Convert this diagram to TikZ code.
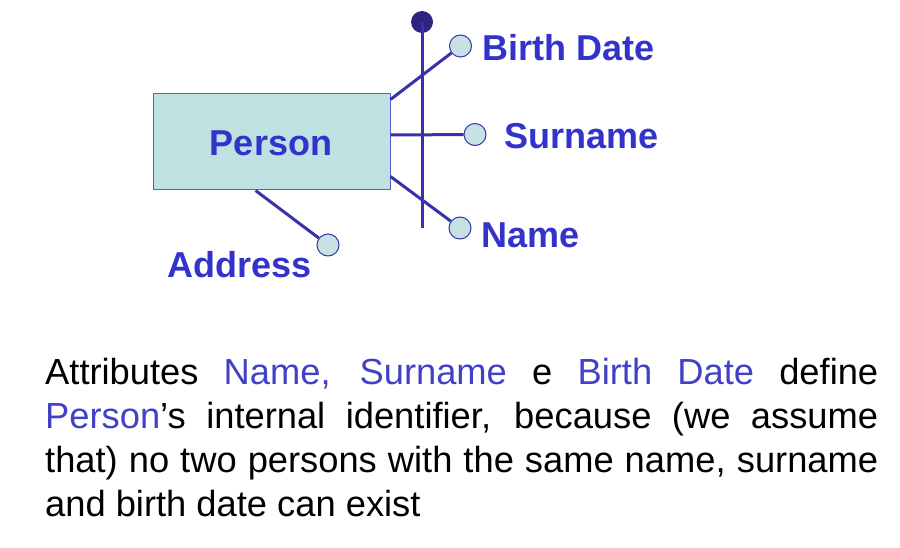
\documentclass[tikz,border=0pt]{standalone}
\usepackage{fontspec}
\setmainfont{Liberation Sans}
\usepackage{tikz}
\usetikzlibrary{positioning}
\usepackage{xcolor}
\definecolor{erblue}{RGB}{51,51,204}
\definecolor{ertextblue}{RGB}{64,64,200}
\definecolor{erline}{RGB}{55,50,170}
\definecolor{erdark}{RGB}{45,35,130}
\definecolor{erfill}{RGB}{190,226,226}
\definecolor{erdot}{RGB}{200,226,228}
\tikzstyle{entity} = [draw=erblue!80, line width=1pt, fill=erfill, minimum width=237pt, minimum height=96pt, inner sep=0pt]
\tikzstyle{attr} = [circle, draw=erline, line width=1pt, fill=erdot, minimum size=22pt, inner sep=0pt]
\tikzstyle{attrlabel} = [anchor=west, inner sep=0pt, text=erblue, font=\fontsize{36}{40}\selectfont\bfseries]
\tikzstyle{link} = [line width=3pt, color=erline]

\begin{document}
\begin{tikzpicture}[x=1pt, y=-1pt]
\useasboundingbox (0,0) rectangle (900,548);
% Entity with its attributes
\node[entity] (person) at (271.5,142) {};
\node[text=erblue, font=\fontsize{36}{40}\selectfont\bfseries] (personlabel) at (271,143) {Person};
\node[attr] (birth) at (460.5,46) {};
\node[attr] (surname) at (475,134.5) {};
\node[attr] (name) at (460,228) {};
\node[attr] (address) at (328,245) {};
\draw[link] ([yshift=-6pt]person.north east) -- (birth);
\draw[link] ([yshift=7pt]person.east) -- (surname);
\draw[link] ([yshift=14pt]person.south east) -- (name);
\draw[link] ([xshift=-16pt]person.south) -- (address);
% Internal identifier
\node[circle, fill=erdark, minimum size=22pt, inner sep=0pt] (idmark) at (422,22) {};
\coordinate (idend) at (422,228);
\draw[link] (idmark.center) -- (idend);
\node[attrlabel] (birthlabel) at (482,48) {Birth Date};
\node[attrlabel] (surnamelabel) at (504,136) {Surname};
\node[attrlabel] (namelabel) at (481,235) {Name};
\node[attrlabel, anchor=east] (addresslabel) at (312,265) {Address};
% Explanation
\node[anchor=north west, inner sep=0pt, text width=833pt, align=justify,
      font=\fontsize{36.3}{44}\selectfont] (note) at (45,358)
  {Attributes \textcolor{ertextblue}{Name, Surname} e \textcolor{ertextblue}{Birth Date} define\linebreak
   \textcolor{ertextblue}{Person}’s internal identifier, because (we assume\linebreak
   that) no two persons with the same name, surname\linebreak
   and birth date can exist};
\end{tikzpicture}
\end{document}
